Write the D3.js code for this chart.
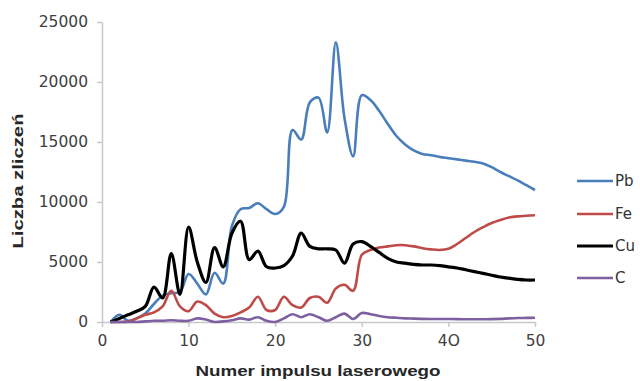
<!DOCTYPE html>
<html>
<head>
<meta charset="utf-8">
<script src="https://cdn.jsdelivr.net/npm/d3@7"></script>
<style>
  html, body { margin: 0; padding: 0; background: #fff; }
  svg { display: block; }
  .tick text { font-family: "DejaVu Sans", sans-serif; font-size: 15.5px; fill: #404040; }
</style>
</head>
<body>
<svg id="chart" width="640" height="381"></svg>
<script>
// Pulse numbers 1..50
const pulses = d3.range(1, 51);

// Counts per pulse for each element
const pb = [0, 600, 100, 300, 700, 1500, 2200, 2400, 2500, 4000,
            3200, 2300, 4100, 3200, 8000, 9400, 9500, 9900, 9400, 9000,
            9600, 16000, 15200, 18300, 18700, 15800, 23300, 17000, 13800, 18900,
            18500, 17600, 16500, 15500, 14800, 14300, 14000, 13900, 13750, 13650,
            13550, 13450, 13350, 13200, 12900, 12500, 12150, 11800, 11400, 11000];
const fe = [0, 0, 50, 300, 600, 800, 1300, 2600, 1300, 900,
            1700, 1400, 700, 400, 500, 800, 1200, 2100, 1000, 1000,
            2100, 1400, 1200, 2000, 2100, 1600, 2800, 3100, 2600, 5600,
            6000, 6200, 6300, 6400, 6400, 6300, 6150, 6050, 6000, 6100,
            6500, 7000, 7500, 7900, 8250, 8500, 8700, 8800, 8850, 8900];
const cu = [0, 300, 600, 900, 1300, 2900, 2000, 5700, 2300, 7900,
            5000, 3300, 6200, 4600, 7400, 8400, 5200, 5900, 4600, 4500,
            4700, 5500, 7400, 6300, 6100, 6100, 6000, 4900, 6500, 6700,
            6300, 5800, 5300, 5000, 4900, 4800, 4750, 4750, 4700, 4600,
            4500, 4350, 4200, 4050, 3900, 3750, 3650, 3550, 3500, 3500];
const c  = [0, 0, 0, 0, 50, 100, 100, 150, 100, 100,
            300, 200, 0, 50, 150, 300, 200, 400, 100, 0,
            300, 650, 400, 650, 400, 100, 400, 700, 250, 750,
            650, 500, 400, 350, 300, 280, 260, 250, 250, 250,
            240, 230, 230, 230, 240, 260, 300, 330, 340, 350];

const seriesNames = ["Pb", "Fe", "Cu", "C"];
const seriesColors = ["#4A7EBB", "#BE4B48", "#000000", "#7D60A0"];
const seriesValues = [pb, fe, cu, c];

const xTicks = [0, 10, 20, 30, 40, 50];
const xTickLabels = ["0", "10", "20", "30", "4O", "50"];
const yTicks = [0, 5000, 10000, 15000, 20000, 25000];

const svg = d3.select("#chart");

const x = d3.scaleLinear().domain([0, 50]).range([102, 535]);
const y = d3.scaleLinear().domain([0, 25000]).range([322, 22]);

// Y axis
const yAxis = svg.append("g")
  .attr("transform", `translate(${x(0)},0)`)
  .call(d3.axisLeft(y).tickValues(yTicks).tickSizeInner(5).tickSizeOuter(0).tickPadding(9)
    .tickFormat(d => String(d)));
yAxis.select(".domain").attr("stroke", "#c8c8c8").attr("stroke-width", 1.5);
yAxis.selectAll(".tick line").attr("stroke", "#c8c8c8").attr("stroke-width", 1.5);

// X axis
const xAxis = svg.append("g")
  .attr("transform", `translate(0,${y(0)})`)
  .call(d3.axisBottom(x).tickValues(xTicks).tickSizeInner(5).tickSizeOuter(0).tickPadding(8)
    .tickFormat((d, i) => xTickLabels[i]));
xAxis.select(".domain").attr("stroke", "#c8c8c8").attr("stroke-width", 1.5);
xAxis.selectAll(".tick line").attr("stroke", "#c8c8c8").attr("stroke-width", 1.5);

// Series lines
const line = d3.line()
  .x((d, i) => x(pulses[i]))
  .y(d => y(d))
  .curve(d3.curveCatmullRom.alpha(0.5));

seriesValues.forEach((vals, k) => {
  svg.append("path")
    .datum(vals)
    .attr("fill", "none")
    .attr("stroke", seriesColors[k])
    .attr("stroke-width", k === 2 ? 3.2 : 2.6)
    .attr("stroke-linejoin", "round")
    .attr("d", line);
});

// Legend
const legendY = [181, 214, 246, 278];
const legend = svg.append("g");
seriesNames.forEach((name, k) => {
  legend.append("line")
    .attr("x1", 577).attr("x2", 613)
    .attr("y1", legendY[k]).attr("y2", legendY[k])
    .attr("stroke", seriesColors[k])
    .attr("stroke-width", k === 2 ? 3.2 : 2.6);
  legend.append("text")
    .attr("x", 615).attr("y", legendY[k])
    .attr("dy", "0.36em")
    .attr("font-family", "DejaVu Sans, sans-serif")
    .attr("font-size", 15)
    .attr("fill", "#333")
    .text(name);
});

// Axis titles
svg.append("text")
  .attr("x", 318).attr("y", 376)
  .attr("text-anchor", "middle")
  .attr("font-family", "Liberation Sans, Arial, sans-serif")
  .attr("font-weight", "bold")
  .attr("font-size", 15)
  .attr("fill", "#262626")
  .attr("textLength", 245)
  .attr("lengthAdjust", "spacingAndGlyphs")
  .text("Numer impulsu laserowego");

svg.append("text")
  .attr("transform", "translate(23,181) rotate(-90)")
  .attr("text-anchor", "middle")
  .attr("font-family", "Liberation Sans, Arial, sans-serif")
  .attr("font-weight", "bold")
  .attr("font-size", 15)
  .attr("fill", "#262626")
  .attr("textLength", 135)
  .attr("lengthAdjust", "spacingAndGlyphs")
  .text("Liczba zliczeń");
</script>
</body>
</html>
